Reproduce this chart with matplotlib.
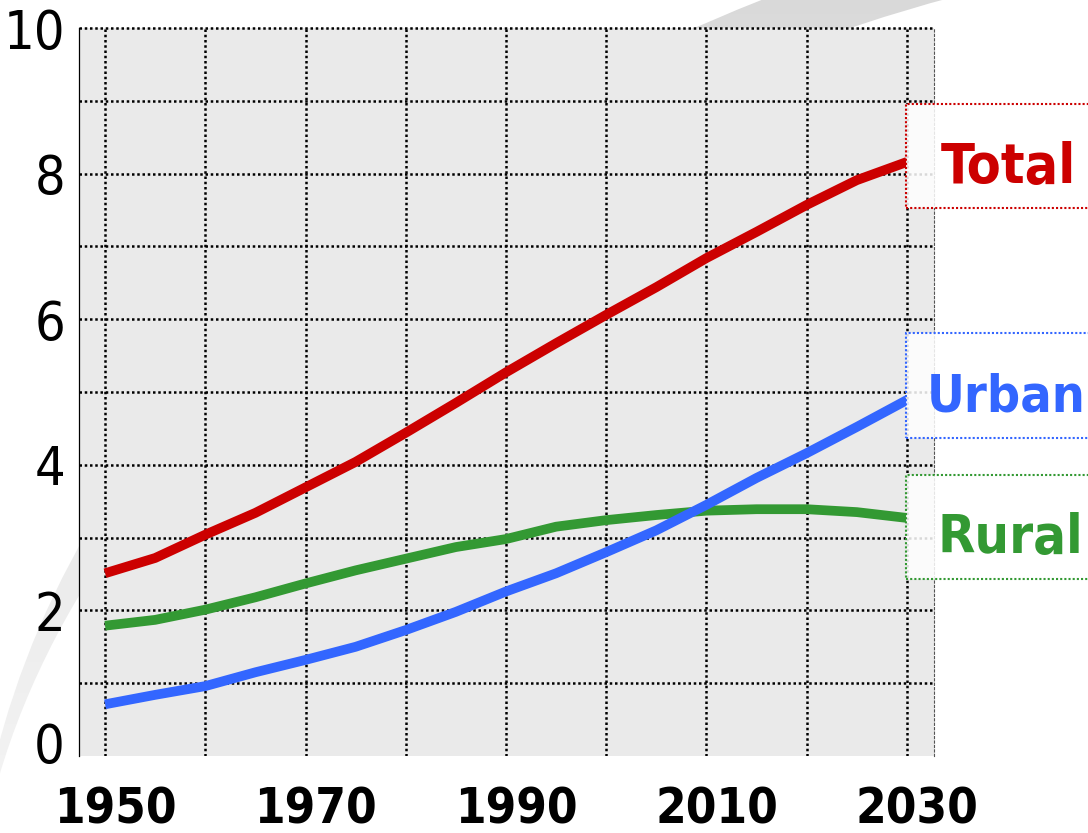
import numpy as np
import matplotlib
matplotlib.use("Agg")
import matplotlib.pyplot as plt
from matplotlib import font_manager
from matplotlib.font_manager import FontProperties
from matplotlib.path import Path
from matplotlib.patches import PathPatch, Rectangle
from matplotlib.textpath import TextPath
from matplotlib.transforms import ScaledTranslation

# World population (billions), 1950-2030
years = [1950, 1955, 1960, 1965, 1970, 1975, 1980, 1985, 1990,
         1995, 2000, 2005, 2010, 2015, 2020, 2025, 2030]
total = [2.51, 2.72, 3.04, 3.34, 3.69, 4.04, 4.44, 4.85, 5.27,
         5.67, 6.06, 6.44, 6.84, 7.20, 7.57, 7.91, 8.16]
urban = [0.71, 0.84, 0.96, 1.15, 1.32, 1.50, 1.73, 1.98, 2.26,
         2.51, 2.80, 3.10, 3.45, 3.82, 4.16, 4.52, 4.89]
rural = [1.79, 1.87, 2.01, 2.18, 2.37, 2.55, 2.71, 2.87, 2.98,
         3.15, 3.24, 3.31, 3.37, 3.39, 3.39, 3.35, 3.27]

series_names = ["Total", "Urban", "Rural"]
series_colors = ["#cc0000", "#3366ff", "#339933"]

x_grid_years = list(range(1950, 2031, 10))
x_label_years = [1950, 1970, 1990, 2010, 2030]
y_ticks = list(range(0, 11))
y_label_values = [0, 2, 4, 6, 8, 10]


# ---- font selection: prefer a narrow / condensed sans ----
def _num(v, table):
    return table.get(v, 500) if isinstance(v, str) else int(v)


def pick_font(bold):
    want_w = 700 if bold else 400
    preferred = ("Liberation Sans Narrow", "Roboto Condensed", "Noto Sans",
                 "Open Sans", "DejaVu Sans", "Liberation Sans")
    best, best_score = None, None
    for f in font_manager.fontManager.ttflist:
        if f.style != "normal":
            continue
        stretch = _num(f.stretch, font_manager.stretch_dict)
        if "Narrow" in f.name or "Condensed" in f.name:
            stretch = min(stretch, 300 if "Semi" not in f.name else 400)
        if not 250 <= stretch <= 450:
            continue
        w = _num(f.weight, font_manager.weight_dict)
        score = abs(stretch - 320) + abs(w - want_w) / 2
        if not any(f.name.startswith(p) for p in preferred):
            score += 60
        if best_score is None or score < best_score:
            best, best_score = f, score
    if best is not None:
        return FontProperties(fname=best.fname)
    return FontProperties(family="Liberation Sans",
                          weight="bold" if bold else "normal")


fp_bold = pick_font(True)
fp_reg = pick_font(False)


def fit_size(s, fp, ink_w, ink_h, max_w=None):
    """Font size (pt at 100 dpi) balancing a target ink width and height."""
    ext = TextPath((0, 0), s, size=100, prop=fp).get_extents()
    by_w = 72 * ink_w / ext.width
    by_h = 72 * ink_h / ext.height
    size = float(np.sqrt(by_w * by_h))
    if max_w is not None:
        size = min(size, 72 * max_w / ext.width)
    return size


W, H = 1088, 833
fig = plt.figure(figsize=(W / 100, H / 100), dpi=100)


def fx(px):
    return px / W


def fy(py):
    return 1 - py / H


# decorative grey swoosh behind the plot
bg = fig.add_axes([0, 0, 1, 1], zorder=-1)
bg.set_xlim(0, W)
bg.set_ylim(H, 0)
bg.axis("off")
outer = [(-20, 833), (40, 450), (350, 154), (800, -15)]
inner = [(1000, -15), (500, 105), (65, 440), (-15, 833)]
verts = outer + inner + [outer[0]]
codes = ([Path.MOVETO] + [Path.CURVE4] * 3 + [Path.LINETO]
         + [Path.CURVE4] * 3 + [Path.CLOSEPOLY])
swoosh = PathPatch(Path(verts, codes), facecolor="none", edgecolor="none")
bg.add_patch(swoosh)
grad = np.linspace(0.85, 0.955, 256)[:, None].repeat(2, axis=1)
im = bg.imshow(grad, cmap="gray", vmin=0, vmax=1, extent=(0, W, H, 0),
               aspect="auto", interpolation="bilinear")
im.set_clip_path(swoosh)

# main plot
ax = fig.add_axes([fx(79), fy(756), fx(934) - fx(79), fy(28) - fy(756)],
                  zorder=0)
ax.set_facecolor("#eaeaea")
ax.set_xlim(1947.4, 2032.7)
ax.set_ylim(0, 10)

grid_style = dict(color="black", lw=1.8, linestyle=(0, (1, 1.1)), zorder=1)
for gx in x_grid_years:
    ax.axvline(gx, **grid_style)
for gy in y_ticks[1:]:
    ax.axhline(gy, clip_on=(gy != y_ticks[-1]), **grid_style)

for vals, color in [(rural, series_colors[2]), (urban, series_colors[1]),
                    (total, series_colors[0])]:
    ax.plot(years, vals, color=color, lw=7, solid_capstyle="butt",
            solid_joinstyle="round", zorder=3)

for side in ["top", "bottom"]:
    ax.spines[side].set_visible(False)
ax.spines["left"].set_linestyle((0, (1, 1)))
ax.spines["left"].set_linewidth(0.9)
ax.spines["right"].set_color("#555555")
ax.spines["right"].set_linestyle((0, (2, 2)))
ax.spines["right"].set_linewidth(0.8)

xs = fit_size("1950", fp_bold, 102, 42)
ys = fit_size("10", fp_reg, 51, 45, max_w=53)

ax.set_xticks(x_grid_years)
ax.set_xticklabels([str(y) if y in x_label_years else "" for y in x_grid_years],
                   fontproperties=fp_bold, fontsize=xs)
ax.set_yticks(y_ticks)
ax.set_yticklabels([str(v) if v in y_label_values else "" for v in y_ticks],
                   fontproperties=fp_reg, fontsize=ys)
ax.tick_params(axis="both", length=0)
ax.tick_params(axis="x", pad=21)
ax.tick_params(axis="y", pad=10)

# nudge tick labels
for lab in ax.get_xticklabels():
    lab.set_transform(lab.get_transform()
                      + ScaledTranslation(10 / 100, 0, fig.dpi_scale_trans))
zero_lab = ax.get_yticklabels()[0]
zero_lab.set_transform(zero_lab.get_transform()
                       + ScaledTranslation(0, 13 / 100, fig.dpi_scale_trans))

# series labels in dotted boxes at the right
label_boxes = [(104, 208, 941, 183, 117, 48),
               (333, 438, 927, 412, 148, 47),
               (475, 579, 937, 553, 128, 45)]
for name, color, (top, bot, tx, base, iw, ih) in zip(series_names,
                                                     series_colors,
                                                     label_boxes):
    fig.add_artist(Rectangle((fx(906), fy(bot)), fx(1110) - fx(906),
                             fy(top) - fy(bot), transform=fig.transFigure,
                             facecolor=(1, 1, 1, 0.85), edgecolor=color,
                             lw=1.5, linestyle=(0, (1, 1)), zorder=5))
    fig.text(fx(tx), fy(base), name, color=color, fontproperties=fp_bold,
             fontsize=fit_size(name, fp_bold, iw, ih, max_w=1078 - tx),
             ha="left", va="baseline", zorder=6)

fig.savefig("out.png", dpi=100)
